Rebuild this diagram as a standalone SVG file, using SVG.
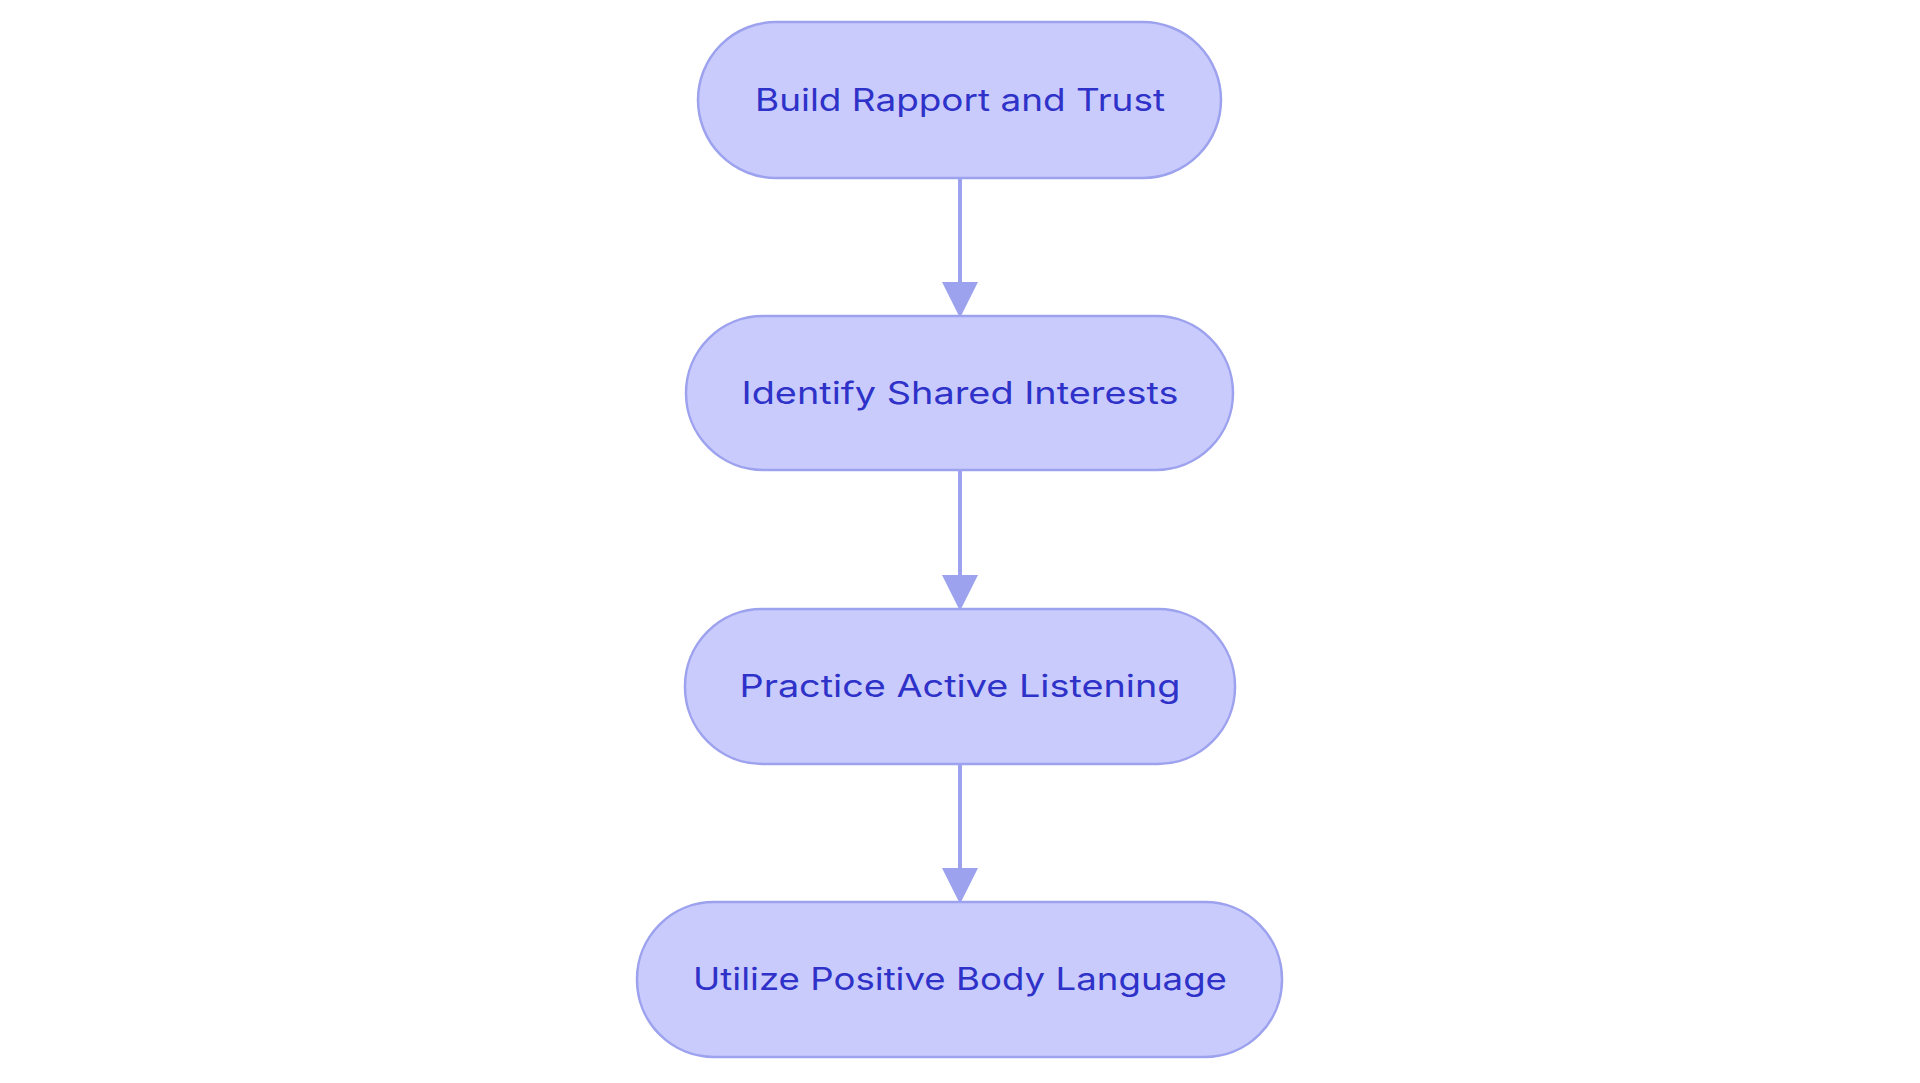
<svg xmlns="http://www.w3.org/2000/svg" width="1920" height="1083" viewBox="0 0 1920 1083">
<defs>
<style>
.n{fill:#CACBFD;stroke:#9DA2EE;stroke-width:2.5}
.t{font-family:Inter,"Noto Sans",sans-serif;font-size:31px;fill:#2E32C8;text-anchor:middle;dominant-baseline:central}
.e{stroke:#9DA2EE;stroke-width:4;fill:none}
</style>
<marker id="a" markerWidth="9" markerHeight="9" refX="8" refY="4.5" orient="auto" markerUnits="strokeWidth"><path d="M0,0 L9,4.5 L0,9 Z" fill="#9DA2EE"/></marker>
</defs>
<rect width="1920" height="1083" fill="#fff"/>
<g id="connectors">
<path class="e" d="M960,178 V314" marker-end="url(#a)"/>
<path class="e" d="M960,470 V607" marker-end="url(#a)"/>
<path class="e" d="M960,764 V900" marker-end="url(#a)"/>
</g>
<g id="n1"><rect class="n" x="698" y="22" width="523" height="156" rx="78"/><text class="t" x="960" y="99" textLength="410" lengthAdjust="spacingAndGlyphs">Build Rapport and Trust</text></g>
<g id="n2"><rect class="n" x="686" y="316" width="547" height="154" rx="77"/><text class="t" x="960" y="392" textLength="437" lengthAdjust="spacingAndGlyphs">Identify Shared Interests</text></g>
<g id="n3"><rect class="n" x="685" y="609" width="550" height="155" rx="77"/><text class="t" x="960" y="685" textLength="441" lengthAdjust="spacingAndGlyphs">Practice Active Listening</text></g>
<g id="n4"><rect class="n" x="637" y="902" width="645" height="155" rx="77"/><text class="t" x="960" y="978" textLength="534" lengthAdjust="spacingAndGlyphs">Utilize Positive Body Language</text></g>
</svg>
